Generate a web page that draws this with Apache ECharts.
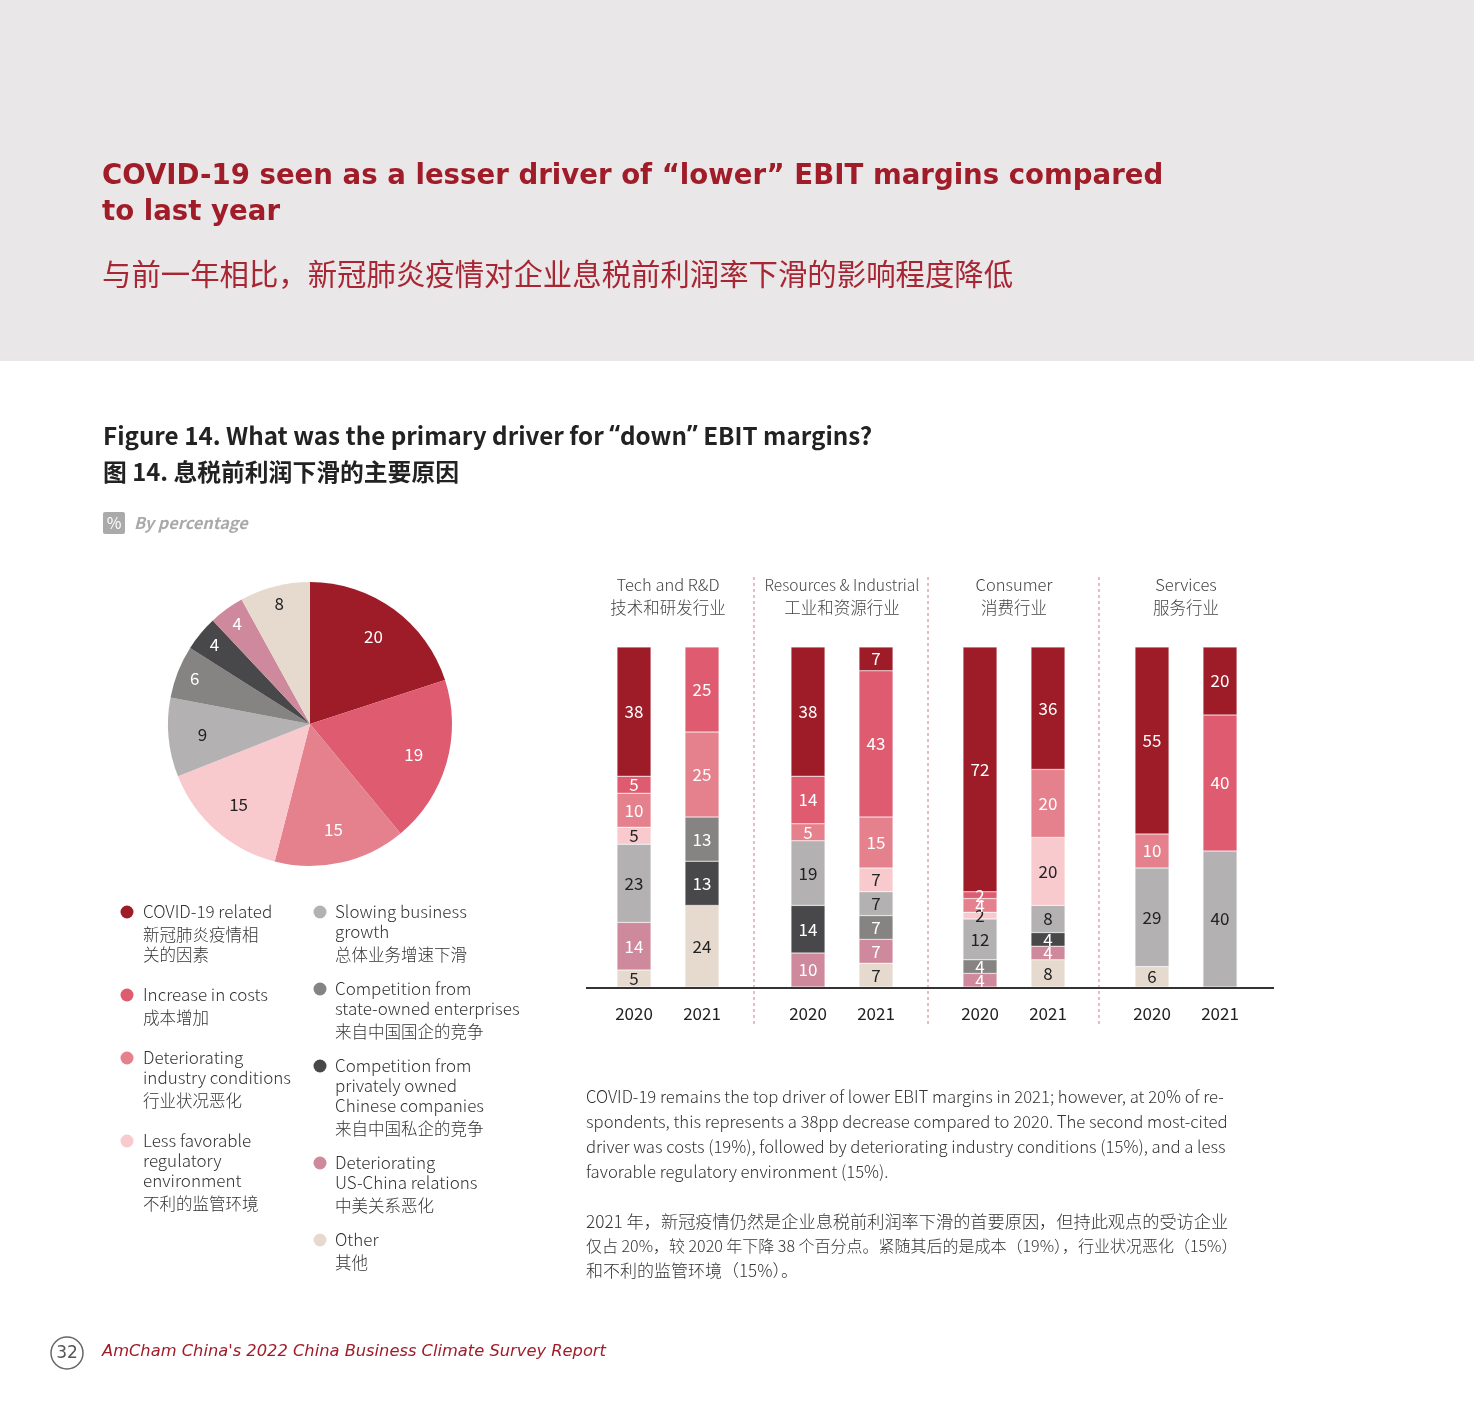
<!DOCTYPE html>
<html>
<head>
<meta charset="utf-8">
<script src="https://cdn.jsdelivr.net/npm/echarts@6/dist/echarts.min.js"></script>
<style>
html,body{margin:0;padding:0;background:#fff;}
#c{width:1474px;height:1417px;}
</style>
</head>
<body>
<div id="c"></div>
<script>
// ---------- data ----------
const years = ['2020', '2021'];
const sectorsEn = ['Tech and R&D', 'Resources & Industrial', 'Consumer', 'Services'];
const sectorsZh = ['技术和研发行业', '工业和资源行业', '消费行业', '服务行业'];

const driverNames = ['COVID-19 related', 'Increase in costs', 'Deteriorating industry conditions',
  'Less favorable regulatory environment', 'Slowing business growth',
  'Competition from state-owned enterprises', 'Competition from privately owned Chinese companies',
  'Deteriorating US-China relations', 'Other'];
const driverColors = ['#9E1C28', '#DE5B70', '#E5818C', '#F8C9CD', '#B3B1B2', '#858483', '#48484A', '#CF899D', '#E6DACE'];
const driverLabelDark = [false, false, false, true, true, false, false, false, true];

// overall pie values (same order as driverNames)
const pieValues = [20, 19, 15, 15, 9, 6, 4, 4, 8];

// bars: Tech20, Tech21, Res20, Res21, Con20, Con21, Ser20, Ser21
const covid      = [38, null, 38, 7, 72, 36, 55, 20];
const costs      = [5, 25, 14, 43, 2, null, null, 40];
const industry   = [10, 25, 5, 15, 4, 20, 10, null];
const regulatory = [5, null, null, 7, 2, 20, null, null];
const slowing    = [23, null, 19, 7, 12, 8, 29, 40];
const soe        = [null, 13, null, 7, 4, null, null, null];
const privateCo  = [null, 13, 14, null, null, 4, null, null];
const usChina    = [14, null, 10, 7, 4, 4, null, null];
const other      = [5, 24, null, 7, null, 8, 6, null];
const barSeriesData = [covid, costs, industry, regulatory, slowing, soe, privateCo, usChina, other];

// legend texts
const legendEn = [
  ['COVID-19 related'], ['Increase in costs'], ['Deteriorating', 'industry conditions'],
  ['Less favorable', 'regulatory', 'environment'], ['Slowing business', 'growth'],
  ['Competition from', 'state-owned enterprises'], ['Competition from', 'privately owned', 'Chinese companies'],
  ['Deteriorating', 'US-China relations'], ['Other']];
const legendZh = [['新冠肺炎疫情相', '关的因素'], ['成本增加'], ['行业状况恶化'], ['不利的监管环境'], ['总体业务增速下滑'],
  ['来自中国国企的竞争'], ['来自中国私企的竞争'], ['中美关系恶化'], ['其他']];

// ---------- layout ----------
const SANS = '"Noto Sans CJK SC", "Noto Sans", sans-serif';
const chart = echarts.init(document.getElementById('c'), null, {renderer: 'canvas'});

function txt(text, x, y, o) {
  o = o || {};
  const st = Object.assign({
    text: text, x: x, y: y,
    fontSize: 16, fontFamily: SANS, fontWeight: 300, fill: '#333',
    align: 'left', verticalAlign: 'middle', textAlign: 'left', textVerticalAlign: 'middle'
  }, o);
  if (o.align) st.textAlign = o.align;
  return {type: 'text', silent: true, style: st};
}

const graphic = [];
graphic.push({type: 'rect', shape: {x: 0, y: 0, width: 1474, height: 361}, style: {fill: '#E9E7E8'}, silent: true, z: -10});
graphic.push(txt('COVID-19 seen as a lesser driver of “lower” EBIT margins compared', 102, 177,
  {fontSize: 27.6, fontFamily: '"DejaVu Sans", sans-serif', fontWeight: 'bold', fill: '#A01C28'}));
graphic.push(txt('to last year', 102, 213,
  {fontSize: 27.6, fontFamily: '"DejaVu Sans", sans-serif', fontWeight: 'bold', fill: '#A01C28'}));
graphic.push(txt('与前一年相比，新冠肺炎疫情对企业息税前利润率下滑的影响程度降低', 102, 274,
  {fontSize: 29.4, fontWeight: 400, fill: '#A82633'}));

// figure titles (quotes drawn with a Latin font so they stay narrow)
graphic.push({type: 'text', silent: true, style: {
  text: '{a|Figure 14. What was the primary driver for }{q|“}{a|down}{q|”}{a| EBIT margins?}',
  x: 103, y: 436, verticalAlign: 'middle', textVerticalAlign: 'middle', align: 'left', textAlign: 'left',
  rich: {
    a: {fontSize: 24.2, fontFamily: SANS, fontWeight: 'bold', fill: '#222', color: '#222'},
    q: {fontSize: 24.2, fontFamily: '"Noto Sans", sans-serif', fontWeight: 'bold', fill: '#222', color: '#222'}
  }}});
graphic.push(txt('图 14. 息税前利润下滑的主要原因', 103, 472, {fontSize: 23.8, fontWeight: 'bold', fill: '#222'}));
graphic.push({type: 'rect', shape: {x: 103, y: 512, width: 22, height: 22, r: 2}, style: {fill: '#AAAAAA'}, silent: true});
graphic.push(txt('%', 114, 523, {fontSize: 16, fontWeight: 400, fill: '#fff', align: 'center'}));
graphic.push(txt('By percentage', 134, 523, {fontSize: 16.3, fontWeight: 600, fontStyle: 'italic', fill: '#A9A9A9'}));

// legend (two columns)
const legendCols = [{dot: 127, x: 143, gap: 40, items: [0, 1, 2, 3]}, {dot: 320, x: 335, gap: 34, items: [4, 5, 6, 7, 8]}];
legendCols.forEach(col => {
  let y = 912;
  col.items.forEach(i => {
    graphic.push({type: 'circle', shape: {cx: col.dot, cy: y, r: 6.5}, style: {fill: driverColors[i]}, silent: true});
    let ly = y;
    legendEn[i].forEach((line, k) => {
      if (k > 0) ly += 20;
      graphic.push(txt(line, col.x, ly, {fontSize: 17, fill: '#333'}));
    });
    legendZh[i].forEach((line, k) => {
      ly += k > 0 ? 20 : 23;
      graphic.push(txt(line, col.x, ly, {fontSize: 16.5, fill: '#333'}));
    });
    y = ly + col.gap;
  });
});

// bar chart decorations
const groupLeft = [600, 774, 946, 1118];
const groupW = 136;
sectorsEn.forEach((s, g) => {
  const cx = groupLeft[g] + groupW / 2;
  graphic.push(txt(s, cx, 585, {fontSize: g === 1 ? 15.6 : 16.5, fill: '#444', align: 'center'}));
  graphic.push(txt(sectorsZh[g], cx, 608, {fontSize: 16.5, fill: '#444', align: 'center'}));
});
[754, 928, 1099].forEach(x => {
  graphic.push({type: 'line', shape: {x1: x, y1: 577, x2: x, y2: 1024}, silent: true,
    style: {stroke: '#E0707F', lineWidth: 1, lineDash: [3, 3]}});
});
graphic.push({type: 'line', shape: {x1: 586, y1: 988, x2: 1274, y2: 988}, silent: true, z: 100,
  style: {stroke: '#333', lineWidth: 2}});

// body text
const bodyEn = ['COVID-19 remains the top driver of lower EBIT margins in 2021; however, at 20% of re-',
  'spondents, this represents a 38pp decrease compared to 2020. The second most-cited',
  'driver was costs (19%), followed by deteriorating industry conditions (15%), and a less',
  'favorable regulatory environment (15%).'];
const bodyZh = ['2021 年，新冠疫情仍然是企业息税前利润率下滑的首要原因，但持此观点的受访企业',
  '仅占 20%，较 2020 年下降 38 个百分点。紧随其后的是成本（19%），行业状况恶化（15%）',
  '和不利的监管环境（15%）。'];
const bodyZhSize = [17.2, 16, 17];
bodyEn.forEach((l, i) => graphic.push(txt(l, 586, 1097 + i * 25, {fontSize: 16.7, fill: '#333'})));
bodyZh.forEach((l, i) => graphic.push(txt(l, 586, 1221 + i * 25, {fontSize: bodyZhSize[i], fill: '#333'})));

// footer
graphic.push({type: 'circle', shape: {cx: 67, cy: 1353, r: 16}, style: {fill: 'none', stroke: '#666', lineWidth: 1.5}, silent: true});
graphic.push(txt('32', 67, 1354, {fontSize: 17, fontFamily: '"DejaVu Sans", sans-serif', fontWeight: 400, fill: '#555', align: 'center'}));
graphic.push(txt('AmCham China\'s 2022 China Business Climate Survey Report', 102, 1352,
  {fontSize: 16.3, fontFamily: '"DejaVu Sans", sans-serif', fontWeight: 400, fontStyle: 'italic', fill: '#A01C28'}));

// grids / axes
const grids = [], xAxes = [], yAxes = [], series = [];
groupLeft.forEach((left, g) => {
  grids.push({left: left, top: 647, width: groupW, height: 340});
  xAxes.push({type: 'category', gridIndex: g, data: years, axisLine: {show: false}, axisTick: {show: false},
    axisLabel: {fontSize: 17, color: '#222', margin: 18, fontFamily: SANS, fontWeight: 400}});
  yAxes.push({type: 'value', gridIndex: g, min: 0, max: 100, show: false, splitLine: {show: false}});
  for (let d = driverNames.length - 1; d >= 0; d--) {
    series.push({
      type: 'bar', name: driverNames[d], xAxisIndex: g, yAxisIndex: g, stack: 'g' + g,
      barWidth: 34, data: barSeriesData[d].slice(g * 2, g * 2 + 2),
      itemStyle: {color: driverColors[d], borderColor: 'rgba(255,255,255,0.6)', borderWidth: 0.5},
      label: {show: true, position: 'inside', fontSize: 17, fontFamily: SANS, fontWeight: 400,
        color: driverLabelDark[d] ? '#222' : '#fff', formatter: p => p.value},
      emphasis: {disabled: true}, silent: true
    });
  }
});

const pieData = pieValues.map((v, i) => ({name: driverNames[i], value: v, itemStyle: {color: driverColors[i]}}));
series.push({type: 'pie', center: [310, 724], radius: [0, 142], startAngle: 90, clockwise: true,
  data: pieData, label: {show: false}, labelLine: {show: false}, silent: true, emphasis: {disabled: true}});
// label rings: larger slices labelled nearer the centre, small slices nearer the rim
[{radius: [68, 142], big: true}, {radius: [100, 142], big: false}].forEach(ring => {
  series.push({type: 'pie', center: [310, 724], radius: ring.radius, startAngle: 90, clockwise: true,
    data: pieValues.map((v, i) => ({name: driverNames[i], value: v,
      label: {show: (v >= 9) === ring.big, color: driverLabelDark[i] ? '#222' : '#fff'}})),
    itemStyle: {color: 'rgba(0,0,0,0)'}, silent: true, emphasis: {disabled: true}, z: 5,
    label: {position: 'inside', fontSize: 17, fontFamily: SANS, fontWeight: 400, formatter: p => p.value},
    labelLine: {show: false}});
});

chart.setOption({
  animation: false,
  backgroundColor: '#fff',
  grid: grids, xAxis: xAxes, yAxis: yAxes, series: series,
  graphic: {elements: graphic}
});
</script>
</body>
</html>
